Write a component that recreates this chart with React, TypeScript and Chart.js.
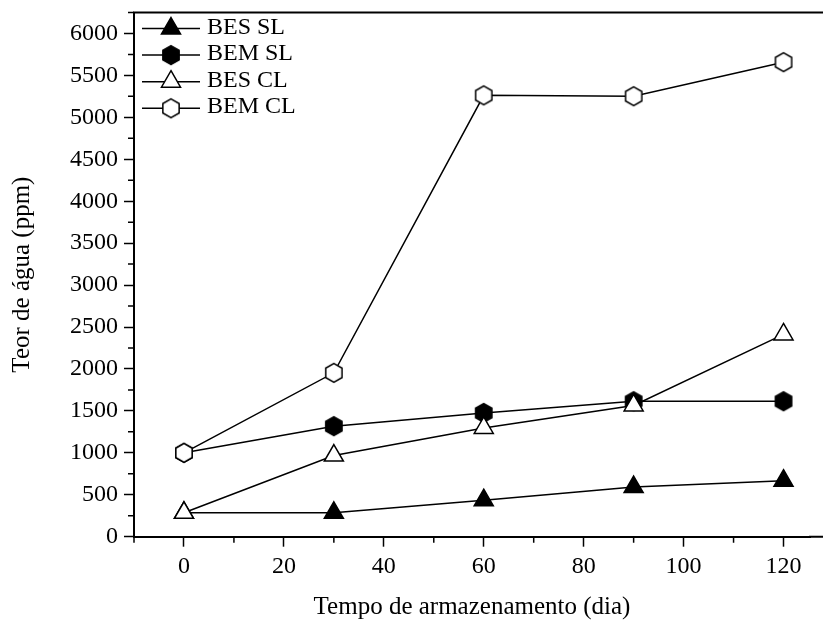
import React, { useEffect, useRef } from "react";
import { Chart, registerables } from "chart.js";

Chart.register(...registerables);

// ---- data ----
const days = [0, 30, 60, 90, 120];
const besSL = [285, 285, 435, 592, 668];
const bemSL = [1000, 1318, 1476, 1615, 1615];
const besCL = [285, 968, 1297, 1565, 2412];
const bemCL = [1000, 1954, 5262, 5252, 5658];

const seriesNames = ["BES SL", "BEM SL", "BES CL", "BEM CL"];

const xMajorTicks = [0, 20, 40, 60, 80, 100, 120];
const xMinorTicks = [-10, 10, 30, 50, 70, 90, 110];
const yMajorTicks = [0, 500, 1000, 1500, 2000, 2500, 3000, 3500, 4000, 4500, 5000, 5500, 6000];
const yMinorTicks = [250, 750, 1250, 1750, 2250, 2750, 3250, 3750, 4250, 4750, 5250, 5750, 6250];

const xTitle = "Tempo de armazenamento (dia)";
const yTitle = "Teor de água (ppm)";

const FONT = "'Liberation Serif', 'Times New Roman', serif";

function makeHex(fill: string): HTMLCanvasElement {
  const c = document.createElement("canvas");
  c.width = 24;
  c.height = 24;
  const ctx = c.getContext("2d")!;
  const R = 9.4;
  ctx.beginPath();
  for (let i = 0; i < 6; i++) {
    const a = (Math.PI / 3) * i - Math.PI / 2;
    const px = 12 + R * Math.cos(a);
    const py = 12 + R * Math.sin(a);
    if (i === 0) ctx.moveTo(px, py);
    else ctx.lineTo(px, py);
  }
  ctx.closePath();
  ctx.fillStyle = fill;
  ctx.fill();
  ctx.lineWidth = 1.5;
  ctx.strokeStyle = "#000";
  ctx.stroke();
  return c;
}

function drawTriangle(ctx: CanvasRenderingContext2D, x: number, y: number, r: number, fill: string) {
  ctx.beginPath();
  let rad = 0;
  ctx.moveTo(x + Math.sin(rad) * r, y - Math.cos(rad) * r);
  rad += (2 * Math.PI) / 3;
  ctx.lineTo(x + Math.sin(rad) * r, y - Math.cos(rad) * r);
  rad += (2 * Math.PI) / 3;
  ctx.lineTo(x + Math.sin(rad) * r, y - Math.cos(rad) * r);
  ctx.closePath();
  ctx.fillStyle = fill;
  ctx.fill();
  ctx.lineWidth = 1.5;
  ctx.strokeStyle = "#000";
  ctx.stroke();
}

export default function App() {
  const ref = useRef<HTMLCanvasElement | null>(null);

  useEffect(() => {
    const canvas = ref.current;
    if (!canvas) return;
    const hexFilled = makeHex("#000");
    const hexHollow = makeHex("#fff");

    const styles: any[] = ["triangle", hexFilled, "triangle", hexHollow];
    const fills = ["#000", "#000", "#fff", "#fff"];
    const values = [besSL, bemSL, besCL, bemCL];

    const datasets = values.map((vals, i) => ({
      label: seriesNames[i],
      data: days.map((d, j) => ({ x: d, y: vals[j] })),
      borderColor: "#000",
      borderWidth: 1.5,
      backgroundColor: fills[i],
      pointStyle: styles[i],
      pointRadius: 11,
      pointBorderWidth: 1.5,
      pointBorderColor: "#000",
      pointBackgroundColor: fills[i],
      tension: 0,
      fill: false,
      order: 4 - i,
    }));

    const framePlugin = {
      id: "frame",
      afterDraw(chart: any) {
        const { ctx, chartArea } = chart;
        const xs = chart.scales.x;
        const ys = chart.scales.y;
        const W = chart.width;
        ctx.save();
        ctx.strokeStyle = "#000";
        // top border and extension of bottom axis to canvas edge
        ctx.lineWidth = 2;
        ctx.beginPath();
        ctx.moveTo(chartArea.left - 1, chartArea.top);
        ctx.lineTo(W, chartArea.top);
        ctx.moveTo(chartArea.right - 1, chartArea.bottom);
        ctx.lineTo(W, chartArea.bottom);
        ctx.stroke();
        // minor ticks
        ctx.lineWidth = 1.5;
        ctx.beginPath();
        for (const v of xMinorTicks) {
          const px = xs.getPixelForValue(v);
          ctx.moveTo(px, chartArea.bottom);
          ctx.lineTo(px, chartArea.bottom + 6);
        }
        for (const v of yMinorTicks) {
          const py = ys.getPixelForValue(v);
          ctx.moveTo(chartArea.left, py);
          ctx.lineTo(chartArea.left - 6, py);
        }
        ctx.stroke();
        // legend
        const rowY = [16, 42.6, 69.2, 95.8];
        ctx.font = `24px ${FONT}`;
        ctx.textBaseline = "alphabetic";
        ctx.textAlign = "left";
        for (let i = 0; i < 4; i++) {
          const y = chartArea.top + rowY[i];
          const l = chartArea.left;
          ctx.lineWidth = 1.5;
          ctx.strokeStyle = "#000";
          ctx.beginPath();
          ctx.moveTo(l + 8, y);
          ctx.lineTo(l + 66, y);
          ctx.stroke();
          const mx = l + 37;
          if (typeof styles[i] === "string") {
            drawTriangle(ctx, mx, y, 11, fills[i]);
          } else {
            const img = styles[i] as HTMLCanvasElement;
            ctx.drawImage(img, mx - img.width / 2, y - img.height / 2);
          }
          ctx.fillStyle = "#000";
          ctx.fillText(seriesNames[i], l + 73, y + 5);
        }
        ctx.restore();
      },
    };

    const chart = new Chart(canvas, {
      type: "line",
      data: { datasets: datasets as any },
      options: {
        animation: false,
        responsive: false,
        maintainAspectRatio: false,
        layout: { padding: { top: 10, right: 13, left: 0, bottom: 0 } },
        plugins: {
          legend: { display: false },
          tooltip: { enabled: false },
        },
        scales: {
          x: {
            type: "linear",
            min: -10,
            max: 125.3,
            afterBuildTicks: (s: any) => {
              s.ticks = xMajorTicks.map((v) => ({ value: v }));
            },
            afterFit: (s: any) => {
              s.height = 89.3;
              s.paddingLeft = 0;
              s.paddingRight = 0;
            },
            grid: {
              drawOnChartArea: false,
              drawTicks: true,
              tickLength: 10,
              tickWidth: 1.5,
              tickColor: "#000",
              color: "#000",
            },
            border: { display: true, color: "#000", width: 2 },
            ticks: {
              color: "#000",
              font: { family: FONT, size: 24 },
              padding: 6,
              maxRotation: 0,
              callback: (v: any) => String(v),
            },
            title: {
              display: true,
              text: xTitle,
              color: "#000",
              font: { family: FONT, size: 25 },
              padding: { top: 0, bottom: 4 },
            },
          },
          y: {
            type: "linear",
            min: 0,
            max: 6250,
            afterBuildTicks: (s: any) => {
              s.ticks = yMajorTicks.map((v) => ({ value: v }));
            },
            afterFit: (s: any) => {
              s.width = 134;
              s.paddingTop = 0;
              s.paddingBottom = 0;
            },
            grid: {
              drawOnChartArea: false,
              drawTicks: true,
              tickLength: 10,
              tickWidth: 1.5,
              tickColor: "#000",
              color: "#000",
            },
            border: { display: true, color: "#000", width: 2 },
            ticks: {
              color: "#000",
              font: { family: FONT, size: 24 },
              padding: 6,
              callback: (v: any) => String(v),
            },
            title: {
              display: true,
              text: yTitle,
              color: "#000",
              font: { family: FONT, size: 25 },
              padding: { top: 7, bottom: 0 },
            },
          },
        },
      },
      plugins: [framePlugin],
    });

    return () => chart.destroy();
  }, []);

  return (
    <div style={{ position: "fixed", left: 0, top: 0, width: 823, height: 626, background: "#fff" }}>
      <canvas ref={ref} width={823} height={626} style={{ display: "block" }} />
    </div>
  );
}
